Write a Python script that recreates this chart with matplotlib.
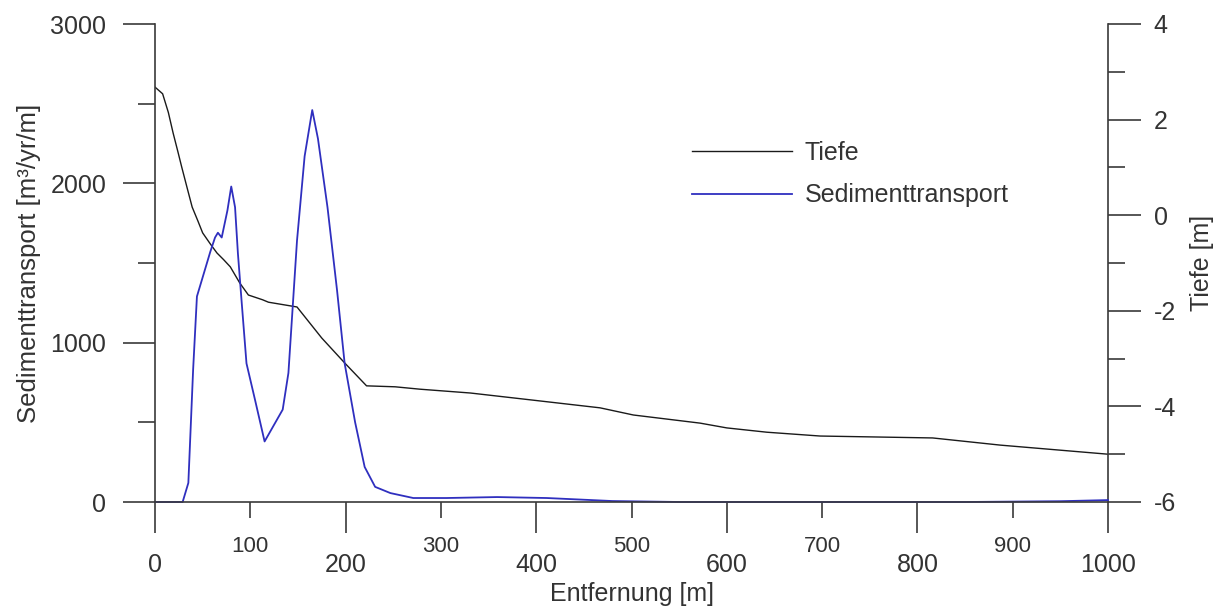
"""Sedimenttransport und Tiefe entlang des Profils (Entfernung 0-1000 m)."""

import matplotlib

matplotlib.use("Agg")
import matplotlib.pyplot as plt
from matplotlib.ticker import FormatStrFormatter, MultipleLocator, NullFormatter

plt.rcParams["font.family"] = ["Liberation Sans", "DejaVu Sans"]
plt.rcParams["axes.unicode_minus"] = False

TEXT = "#333333"
SPINE = "#3a3a3a"
BLUE = "#2f2fbf"
BLACK = "#1a1a1a"

# Sedimenttransport [m3/yr/m] over distance [m] (left axis)
sed_dist = [0, 29, 35, 40, 44, 50, 58, 63, 66, 70, 76, 80, 84, 87, 91, 96,
            105, 115, 134, 140, 149, 157, 165, 171, 181, 191, 199, 210, 220,
            231, 247, 271, 306, 359, 411, 480, 551, 700, 850, 950, 1000]
sed_val = [0, 0, 120, 830, 1290, 1410, 1570, 1660, 1690, 1660, 1830, 1980,
           1850, 1560, 1250, 870, 640, 380, 580, 810, 1640, 2170, 2460, 2280,
           1850, 1330, 870, 500, 220, 95, 56, 25, 25, 31, 25, 6, 0, 0, 0, 5, 12]

# Tiefe [m] over distance [m] (right axis)
depth_dist = [0, 8, 14, 19, 24, 28, 34, 39, 45, 50, 58, 65, 72, 79, 89, 98,
              113, 119, 149, 175, 199, 222, 252, 278, 331, 397, 467, 502, 572,
              600, 642, 698, 816, 887, 1000]
depth_val = [2.68, 2.54, 2.15, 1.72, 1.33, 1.01, 0.55, 0.17, -0.12, -0.37,
             -0.60, -0.79, -0.93, -1.08, -1.42, -1.67, -1.77, -1.82, -1.92,
             -2.57, -3.09, -3.57, -3.59, -3.64, -3.72, -3.87, -4.03, -4.18,
             -4.35, -4.45, -4.54, -4.62, -4.66, -4.81, -5.0]

MAJOR_FS = 18
MINOR_FS = 16


def style_spines(ax, visible):
    for side, spine in ax.spines.items():
        spine.set_visible(side in visible)
        spine.set_color(SPINE)
        spine.set_linewidth(1.2)


fig = plt.figure(figsize=(12.22, 6.10), dpi=100)
ax = fig.add_axes([155 / 1222, 108 / 610, 953 / 1222, 478 / 610])
ax2 = ax.twinx()

line_sed, = ax.plot(sed_dist, sed_val, color=BLUE, lw=1.3, clip_on=False,
                    label="Sedimenttransport")
line_dep, = ax2.plot(depth_dist, depth_val, color=BLACK, lw=1.0,
                     label="Tiefe")

ax.set_xlim(0, 1000)
ax.set_ylim(0, 3000)
ax2.set_ylim(-6, 4)

style_spines(ax, {"left", "bottom"})
style_spines(ax2, {"right"})

# x axis: labelled major ticks every 200, smaller labelled minor ticks between
ax.xaxis.set_major_locator(MultipleLocator(200))
ax.xaxis.set_minor_locator(MultipleLocator(100))
ax.xaxis.set_minor_formatter(FormatStrFormatter("%d"))
ax.tick_params(axis="x", which="major", direction="out", length=22, width=1.2,
               color=SPINE, labelsize=MAJOR_FS, labelcolor=TEXT, pad=15)
ax.tick_params(axis="x", which="minor", direction="out", length=11.5,
               width=1.2, color=SPINE, labelsize=MINOR_FS, labelcolor=TEXT,
               pad=13)

ax.yaxis.set_major_locator(MultipleLocator(1000))
ax.yaxis.set_minor_locator(MultipleLocator(500))
ax.yaxis.set_minor_formatter(NullFormatter())
ax.tick_params(axis="y", which="major", direction="out", length=23, width=1.2,
               color=SPINE, labelsize=MAJOR_FS, labelcolor=TEXT, pad=12)
ax.tick_params(axis="y", which="minor", direction="out", length=12, width=1.2,
               color=SPINE)

ax2.yaxis.set_major_locator(MultipleLocator(2))
ax2.yaxis.set_minor_locator(MultipleLocator(1))
ax2.yaxis.set_minor_formatter(NullFormatter())
ax2.tick_params(axis="y", which="major", direction="out", length=24, width=1.2,
                color=SPINE, labelsize=MAJOR_FS, labelcolor=TEXT, pad=9)
ax2.tick_params(axis="y", which="minor", direction="out", length=12,
                width=1.2, color=SPINE)

ax.set_xlabel("Entfernung [m]", fontsize=MAJOR_FS, color=TEXT)
ax.xaxis.set_label_coords(0.5, -0.168)
ax.set_ylabel("Sedimenttransport [m³/yr/m]", fontsize=18.5, color=TEXT)
ax.yaxis.set_label_coords(-0.120, 0.5)
ax2.set_ylabel("Tiefe [m]", fontsize=MAJOR_FS, color=TEXT)
ax2.yaxis.set_label_coords(1.086, 0.5)

ax.legend(handles=[line_dep, line_sed], loc="upper left",
          bbox_to_anchor=(0.5635, 0.756), frameon=False, fontsize=MAJOR_FS,
          handlelength=4.0, handletextpad=0.5, labelspacing=0.75, borderpad=0,
          borderaxespad=0, labelcolor=TEXT)

ax.set_zorder(ax2.get_zorder() + 1)
ax.patch.set_visible(False)

fig.savefig("out.png", dpi=100)
plt.close(fig)
